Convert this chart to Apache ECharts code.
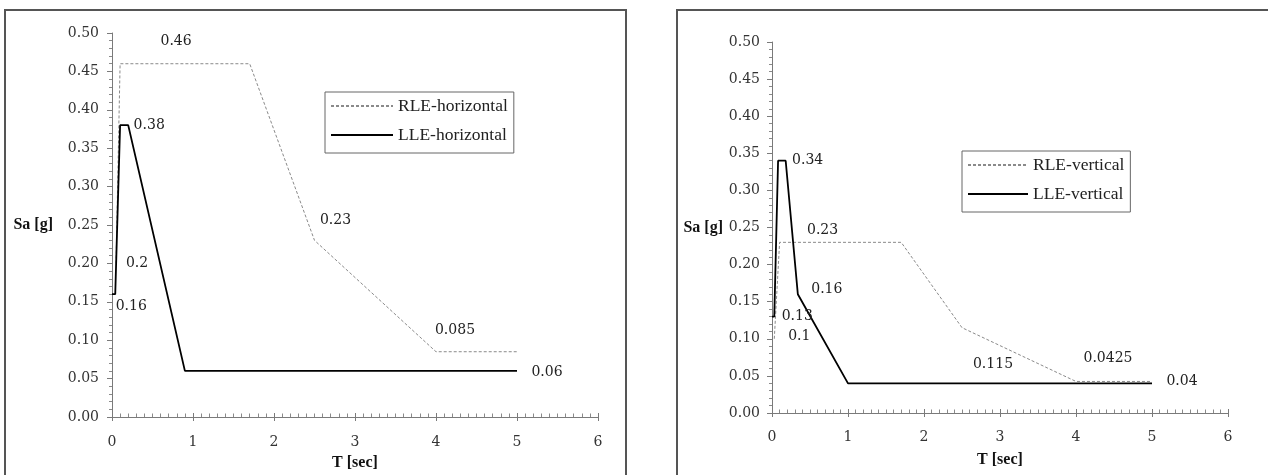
<!DOCTYPE html>
<html>
<head>
<meta charset="utf-8">
<script src="https://cdn.jsdelivr.net/npm/echarts@6/dist/echarts.min.js"></script>
<style>
  html, body { margin: 0; padding: 0; background: #fff; }
  #chart { width: 1268px; height: 475px; }
</style>
</head>
<body>
<div id="chart"></div>
<script>
// ---- data ----
const seriesNames = ['RLE-horizontal', 'LLE-horizontal', 'RLE-vertical', 'LLE-vertical'];

const rleHorT  = [0.05, 0.1, 1.7, 2.5, 4, 5];
const rleHorSa = [0.2, 0.46, 0.46, 0.23, 0.085, 0.085];

const lleHorT  = [0, 0.04, 0.1, 0.2, 0.9, 5];
const lleHorSa = [0.16, 0.16, 0.38, 0.38, 0.06, 0.06];

const rleVerT  = [0.03, 0.1, 1.7, 2.5, 4, 5];
const rleVerSa = [0.1, 0.23, 0.23, 0.115, 0.0425, 0.0425];

const lleVerT  = [0, 0.03, 0.08, 0.18, 0.34, 1, 5];
const lleVerSa = [0.13, 0.13, 0.34, 0.34, 0.16, 0.04, 0.04];

const xTicks = [0, 1, 2, 3, 4, 5, 6];
const yTicks = [0, 0.05, 0.1, 0.15, 0.2, 0.25, 0.3, 0.35, 0.4, 0.45, 0.5];

// ---- styling ----
const tickFont = 'DejaVu Serif';
const serif = 'Liberation Serif';
const tickSize = 14;

// label offsets (style): point index -> [dx, dy]
const labelOffsets = {
  'RLE-horizontal': { 0: [21, 0], 1: [56, -22], 3: [21, -20], 4: [19, -21] },
  'LLE-horizontal': { 1: [16, 12], 3: [21, 0], 5: [30, 1] },
  'RLE-vertical':   { 0: [25, -2], 1: [43, -12], 3: [31, 37], 4: [32, -23] },
  'LLE-vertical':   { 1: [23, 0], 3: [22, 0], 4: [29, -5], 6: [30, -2] }
};

function buildData(name, ts, sas) {
  const offs = labelOffsets[name] || {};
  return ts.map((t, i) => {
    const item = { value: [t, sas[i]] };
    if (offs[i]) {
      item.label = {
        show: true, position: 'inside', offset: offs[i],
        formatter: p => String(p.value[1]),
        fontFamily: tickFont, fontSize: tickSize, color: '#222'
      };
    }
    return item;
  });
}

function makeLine(name, ts, sas, idx, dashed) {
  return {
    name: name, type: 'line', xAxisIndex: idx, yAxisIndex: idx,
    data: buildData(name, ts, sas),
    showSymbol: true, symbol: 'circle', symbolSize: 1,
    itemStyle: { color: 'rgba(0,0,0,0)' },
    lineStyle: dashed ? { color: '#8a8a8a', width: 1, type: [3, 2] } : { color: '#000', width: 1.8 },
    label: { show: false },
    emphasis: { disabled: true },
    silent: true, z: dashed ? 3 : 4
  };
}

const grids = [
  { left: 112, top: 33, width: 486, height: 384 },
  { left: 772, top: 42, width: 456, height: 371 }
];

function xAxisMain(gi, margin, nameGap) {
  return {
    type: 'value', gridIndex: gi, position: 'bottom', min: 0, max: 6, interval: 1,
    axisLine: { show: true, lineStyle: { color: '#7a7a7a', width: 1 } },
    axisTick: { show: true, inside: true, length: 4, lineStyle: { color: '#7a7a7a' } },
    minorTick: { show: true, splitNumber: 10, length: 3.5, lineStyle: { color: '#8a8a8a' } },
    splitLine: { show: false },
    axisLabel: { margin: margin, fontFamily: tickFont, fontSize: tickSize, color: '#333',
      formatter: v => xTicks.includes(v) ? String(v) : '' },
    name: 'T [sec]', nameLocation: 'middle', nameGap: nameGap,
    nameTextStyle: { fontFamily: serif, fontWeight: 'bold', fontSize: 16, color: '#111' }
  };
}
function xAxisOver(gi) {
  return {
    type: 'value', gridIndex: gi, position: 'bottom', offset: 0, min: 0, max: 6, interval: 1,
    axisLine: { show: false, onZero: false },
    axisTick: { show: true, inside: false, length: 4, lineStyle: { color: '#7a7a7a' } },
    axisLabel: { show: false }, splitLine: { show: false }
  };
}
function yAxisMain(gi, margin, nameGap) {
  return {
    type: 'value', gridIndex: gi, min: 0, max: 0.5, interval: 0.05,
    axisLine: { show: true, lineStyle: { color: '#7a7a7a', width: 1 } },
    axisTick: { show: true, inside: false, length: 5, lineStyle: { color: '#7a7a7a' } },
    minorTick: { show: true, splitNumber: 5, length: 3, lineStyle: { color: '#8a8a8a' } },
    splitLine: { show: false },
    axisLabel: { margin: margin, fontFamily: tickFont, fontSize: tickSize, color: '#333',
      formatter: v => v.toFixed(2) },
    name: 'Sa [g]', nameLocation: 'middle', nameRotate: 0, nameGap: nameGap,
    nameTextStyle: { fontFamily: serif, fontWeight: 'bold', fontSize: 16, color: '#111' }
  };
}

function legend(names, left, top, itemWidth) {
  return {
    data: names, orient: 'vertical', left: left, top: top,
    itemWidth: itemWidth, itemHeight: 14, itemGap: 11,
    padding: [5, 6, 9, 5],
    borderColor: '#666', borderWidth: 1, backgroundColor: '#fff',
    itemStyle: { color: 'rgba(0,0,0,0)', borderWidth: 0 },
    textStyle: { fontFamily: serif, fontSize: 17.5, color: '#222', lineHeight: 18 },
    selectedMode: false
  };
}

const chart = echarts.init(document.getElementById('chart'), null, { renderer: 'canvas' });
chart.setOption({
  animation: false,
  backgroundColor: '#fff',
  grid: grids.map(g => Object.assign({ outerBoundsMode: 'none', containLabel: false }, g)),
  xAxis: [xAxisMain(0, 18, 38), xAxisMain(1, 17, 39), xAxisOver(0), xAxisOver(1)],
  yAxis: [yAxisMain(0, 13, 59), yAxisMain(1, 12, 49)],
  legend: [
    legend([seriesNames[0], seriesNames[1]], 325, 92, 62),
    legend([seriesNames[2], seriesNames[3]], 962, 151, 60)
  ],
  series: [
    makeLine(seriesNames[0], rleHorT, rleHorSa, 0, true),
    makeLine(seriesNames[1], lleHorT, lleHorSa, 0, false),
    makeLine(seriesNames[2], rleVerT, rleVerSa, 1, true),
    makeLine(seriesNames[3], lleVerT, lleVerSa, 1, false)
  ],
  graphic: [
    { type: 'rect', silent: true, z: -10,
      shape: { x: 5, y: 10, width: 621, height: 480 },
      style: { fill: 'none', stroke: '#555', lineWidth: 2 } },
    { type: 'rect', silent: true, z: -10,
      shape: { x: 677, y: 10, width: 600, height: 480 },
      style: { fill: 'none', stroke: '#555', lineWidth: 2 } }
  ]
});
</script>
</body>
</html>
